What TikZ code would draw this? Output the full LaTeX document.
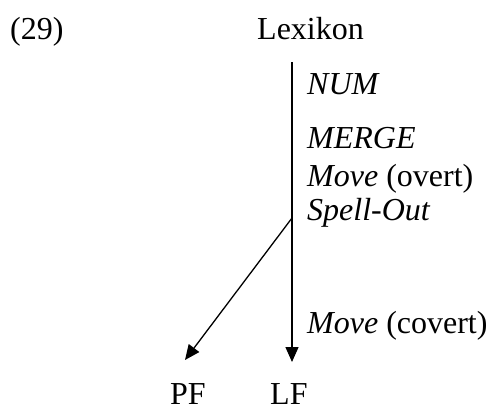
\documentclass[tikz,border=0pt]{standalone}
\usepackage{fontspec}
\setmainfont{Liberation Serif}
\usetikzlibrary{arrows.meta}
\begin{document}
\begin{tikzpicture}[x=1pt,y=-1pt,
  lbl/.style={anchor=base west,inner sep=0pt,font=\fontsize{32}{34}\selectfont},
  conn/.style={line width=1.3pt,-{Triangle[length=15pt,width=13pt]}}]
\useasboundingbox (0,0) rectangle (493,408);
\node[lbl] (ex) at (10,39) {(29)};
\node[lbl] (lex) at (257,39) {Lexikon};
\node[lbl] (num) at (307,94) {\textit{NUM}};
\node[lbl] (merge) at (307,148) {\textit{MERGE}};
\node[lbl] (moveo) at (307,186) {\textit{Move} (overt)};
\node[lbl] (spell) at (307,220) {\textit{Spell-Out}};
\node[lbl] (movec) at (307,333) {\textit{Move} (covert)};
\node[lbl,text depth=0pt] (pf) at (170,404) {PF};
\node[lbl,text depth=0pt] (lf) at (270,404) {LF};
\coordinate (top) at (292,62);
\coordinate (split) at (292,218);
\coordinate (lftip) at (292,362);
\coordinate (pftip) at (185,360);
\draw[conn] (top) -- (lftip);
\draw[conn] (split) -- (pftip);
\end{tikzpicture}
\end{document}
